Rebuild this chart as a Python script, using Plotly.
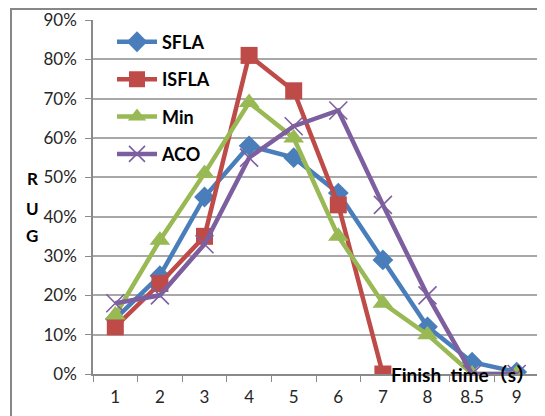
import plotly.graph_objects as go

categories = ["1", "2", "3", "4", "5", "6", "7", "8", "8.5", "9"]
sfla = [0.14, 0.25, 0.45, 0.58, 0.55, 0.46, 0.29, 0.12, 0.03, 0.005]
isfla = [0.12, 0.23, 0.35, 0.81, 0.72, 0.43, 0.00, None, None, None]
min_s = [0.15, 0.34, 0.51, 0.69, 0.60, 0.35, 0.18, 0.10, 0.00, 0.00]
aco = [0.18, 0.20, 0.33, 0.55, 0.63, 0.67, 0.43, 0.20, 0.00, 0.00]
y_ticks = [0, 0.1, 0.2, 0.3, 0.4, 0.5, 0.6, 0.7, 0.8, 0.9]

series = [
    ("SFLA", sfla, "#4A7EBB", "diamond", 16, 0),
    ("ISFLA", isfla, "#BE4B48", "square", 17, 0),
    ("Min", min_s, "#98B954", "triangle-up", 18, 0),
    ("ACO", aco, "#7D5FA0", "x-thin-open", 18, 1.6),
]

# page body has an 8px margin; figure coordinates are page coordinates minus 8
OFF = 8
PL, PR, PT, PB = 93 - OFF, 539 - OFF, 20 - OFF, 374 - OFF
W, H = 545 - OFF, 416 - OFF
PW, PH = PR - PL, PB - PT


def px_x(px):
    return (px - OFF - PL) / PW


def px_y(py):
    return (PB - (py - OFF)) / PH


fig = go.Figure()
for name, vals, color, sym, size, lw in series:
    marker = dict(symbol=sym, size=size, color=color)
    if lw:
        marker["line"] = dict(color=color, width=lw)
    else:
        marker["line"] = dict(width=0)
    fig.add_trace(go.Scatter(
        x=categories, y=vals, name=name, mode="lines+markers",
        line=dict(color=color, width=4.5), marker=marker,
        legendgroup=name, connectgaps=False,
    ))

fig.update_layout(
    width=W, height=H,
    margin=dict(l=PL, r=W - PR, t=PT, b=H - PB, autoexpand=False),
    paper_bgcolor="white", plot_bgcolor="white",
    font=dict(family="Lato, 'Noto Sans CJK SC', sans-serif", size=17, color="#262626"),
    showlegend=True,
    legend=dict(
        x=px_x(112), y=0.99, xanchor="left", yanchor="top",
        bgcolor="rgba(255,255,255,0)",
        font=dict(size=18, color="black", family="Lato, sans-serif", weight="bold"),
        tracegroupgap=11, itemwidth=40,
    ),
    xaxis=dict(
        type="category", range=[-0.5, 9.5], automargin=False,
        showline=True, linecolor="#8a8a8a", linewidth=1.5,
        ticks="outside", tickson="boundaries", ticklen=6, tickcolor="#8a8a8a",
        showgrid=False, ticklabelstandoff=7,
    ),
    yaxis=dict(
        range=[0, 0.9], tickvals=y_ticks, tickformat=".0%", automargin=False,
        showline=True, linecolor="#8a8a8a", linewidth=1.5,
        ticks="outside", ticklen=6, tickcolor="#8a8a8a",
        showgrid=True, gridcolor="#a8a8a8", gridwidth=1.5,
        zeroline=False, ticklabelstandoff=5,
    ),
    shapes=[dict(
        type="rect", xref="paper", yref="paper",
        x0=px_x(11), x1=px_x(560), y0=px_y(430), y1=px_y(9),
        line=dict(color="#878787", width=2), layer="below",
    )],
)

for txt, py in [("R", 178), ("U", 208), ("G", 236)]:
    fig.add_annotation(
        text=txt, xref="paper", yref="paper",
        x=px_x(32), y=px_y(py), xanchor="center", yanchor="middle", showarrow=False,
        font=dict(size=17, color="black", family="Lato, sans-serif", weight="bold"),
    )

fig.add_annotation(
    text="Finish  time（s）", xref="paper", yref="paper",
    x=px_x(463), y=px_y(375), xanchor="center", yanchor="middle", showarrow=False,
    font=dict(size=19, color="black", family="Lato, 'Noto Sans CJK SC', sans-serif", weight="bold"),
)

fig.write_html("out.html")
